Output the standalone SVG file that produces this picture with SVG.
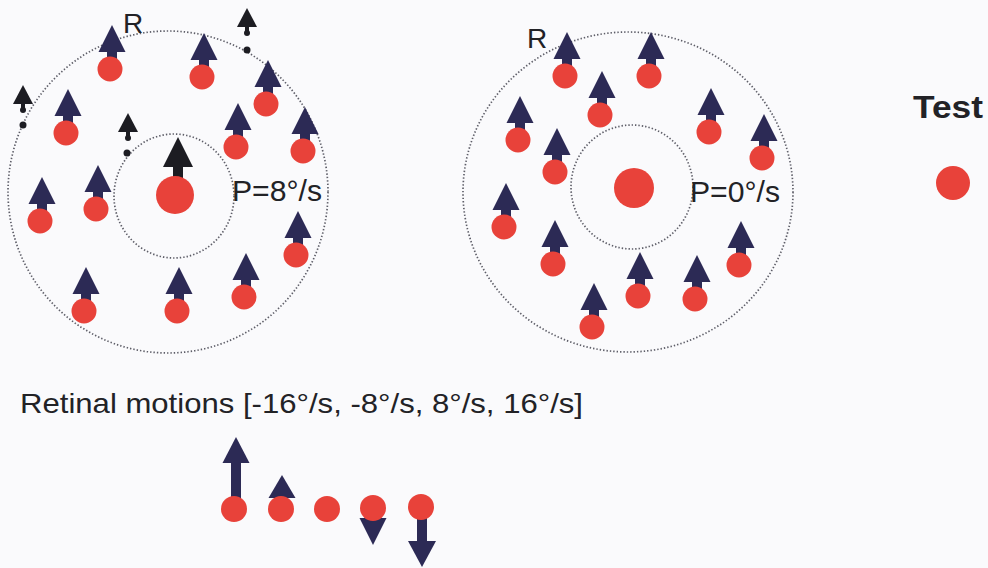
<svg xmlns="http://www.w3.org/2000/svg" xmlns:xlink="http://www.w3.org/1999/xlink" width="988" height="568" viewBox="0 0 988 568">
<style>
.ring{fill:none;stroke:#5e5e68;stroke-width:1.7;stroke-dasharray:1.4 2}
.navy{fill:#2c2a55}
.blk{fill:#1c1c22}
.red{fill:#e8423a}
.lbl{font-family:"Liberation Sans",Arial,sans-serif;fill:#222226}
</style>
<defs>
<g id="unit">
<rect class="navy" x="-5" y="25" width="10" height="12"/>
<polygon class="navy" points="0,0 13.5,27 -13.5,27"/>
<circle class="red" cx="-2" cy="44" r="12.5"/>
</g>
<g id="small">
<polygon class="blk" points="0,0 10,19 -10,19"/>
<rect class="blk" x="-2" y="18" width="4" height="5"/>
<circle class="blk" cx="0" cy="25" r="3"/>
</g>
</defs>
<rect width="988" height="568" fill="#fafafc"/>

<g id="panel-left">
<ellipse id="left-outer" class="ring" cx="168" cy="192" rx="160" ry="161"/>
<ellipse id="left-inner" class="ring" cx="174" cy="196" rx="60" ry="62"/>
<text id="left-R" class="lbl" x="123" y="33" font-size="28">R</text>
<text id="left-P" class="lbl" x="232" y="201" font-size="29" textLength="90" lengthAdjust="spacingAndGlyphs">P=8°/s</text>
<g id="left-center">
<rect class="blk" x="173" y="165" width="10" height="14"/>
<polygon class="blk" points="178,137 193,167 163,167"/>
<circle class="red" cx="175" cy="195" r="19"/>
</g>
<g id="ls1"><use href="#small" x="247" y="8"/><circle class="blk" cx="247" cy="50" r="3.5"/></g>
<g id="ls2"><use href="#small" x="23" y="85"/><circle class="blk" cx="23" cy="125" r="3.5"/></g>
<g id="ls3"><use href="#small" x="128" y="113"/><circle class="blk" cx="127" cy="153" r="3.5"/></g>
<g id="l1"><use href="#unit" x="112" y="25"/></g>
<g id="l2"><use href="#unit" x="204" y="33"/></g>
<g id="l3"><use href="#unit" x="268" y="60"/></g>
<g id="l4"><use href="#unit" x="68" y="89"/></g>
<g id="l5"><use href="#unit" x="238" y="103"/></g>
<g id="l6"><use href="#unit" x="305" y="107"/></g>
<g id="l7"><use href="#unit" x="42" y="177"/></g>
<g id="l8"><use href="#unit" x="98" y="165"/></g>
<g id="l9"><use href="#unit" x="298" y="211"/></g>
<g id="l10"><use href="#unit" x="86" y="267"/></g>
<g id="l11"><use href="#unit" x="179" y="267"/></g>
<g id="l12"><use href="#unit" x="246" y="253"/></g>
</g>

<g id="panel-right">
<ellipse id="right-outer" class="ring" cx="628" cy="192" rx="165" ry="160"/>
<ellipse id="right-inner" class="ring" cx="632" cy="187" rx="61" ry="62"/>
<text id="right-R" class="lbl" x="527" y="48" font-size="28">R</text>
<text id="right-P" class="lbl" x="690" y="202" font-size="29" textLength="90" lengthAdjust="spacingAndGlyphs">P=0°/s</text>
<g id="right-center"><circle class="red" cx="634" cy="188" r="20"/></g>
<g id="r1"><use href="#unit" x="567" y="32"/></g>
<g id="r2"><use href="#unit" x="651" y="32"/></g>
<g id="r3"><use href="#unit" x="602" y="71"/></g>
<g id="r4"><use href="#unit" x="520" y="96"/></g>
<g id="r5"><use href="#unit" x="711" y="88"/></g>
<g id="r6"><use href="#unit" x="764" y="114"/></g>
<g id="r7"><use href="#unit" x="557" y="128"/></g>
<g id="r8"><use href="#unit" x="506" y="183"/></g>
<g id="r9"><use href="#unit" x="555" y="220"/></g>
<g id="r10"><use href="#unit" x="741" y="221"/></g>
<g id="r11"><use href="#unit" x="640" y="252"/></g>
<g id="r12"><use href="#unit" x="697" y="255"/></g>
<g id="r13"><use href="#unit" x="594" y="283"/></g>
</g>

<g id="test">
<text id="test-label" class="lbl" x="913" y="118" font-size="31" font-weight="bold" textLength="70" lengthAdjust="spacingAndGlyphs">Test</text>
<circle id="test-dot" class="red" cx="953" cy="183" r="17"/>
</g>

<g id="retinal">
<text id="retinal-label" class="lbl" x="20" y="413" font-size="28" textLength="563" lengthAdjust="spacingAndGlyphs">Retinal motions [-16°/s, -8°/s, 8°/s, 16°/s]</text>
<g id="m1">
<rect class="navy" x="231" y="461" width="10" height="40"/>
<polygon class="navy" points="236,437 249.5,463 222.5,463"/>
<circle class="red" cx="234" cy="509" r="13"/>
</g>
<g id="m2">
<polygon class="navy" points="282,475 295.5,498 268.5,498"/>
<circle class="red" cx="281" cy="509" r="13"/>
</g>
<g id="m3"><circle class="red" cx="327" cy="509" r="13"/></g>
<g id="m4">
<polygon class="navy" points="359.5,518 386.5,518 373,545"/>
<circle class="red" cx="373" cy="508" r="13"/>
</g>
<g id="m5">
<rect class="navy" x="417" y="512" width="10" height="31"/>
<polygon class="navy" points="408,541 436,541 422,567"/>
<circle class="red" cx="421" cy="507" r="13"/>
</g>
</g>
</svg>
